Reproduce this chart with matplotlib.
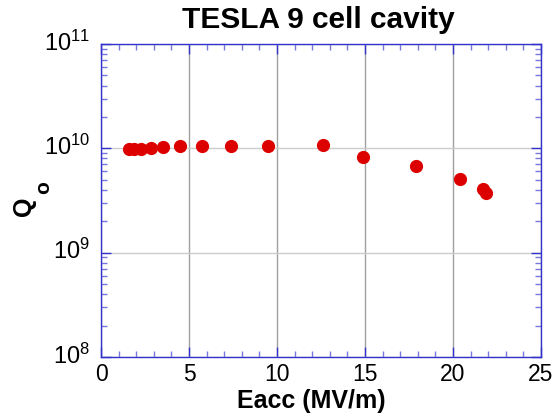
import matplotlib
matplotlib.use("Agg")
import matplotlib.pyplot as plt
import matplotlib.transforms as mtransforms
from matplotlib.ticker import LogLocator, MultipleLocator, NullFormatter

plt.rcParams['font.family'] = ['Liberation Sans', 'DejaVu Sans']
plt.rcParams['mathtext.fontset'] = 'custom'
plt.rcParams['mathtext.rm'] = 'Liberation Sans'
plt.rcParams['mathtext.it'] = 'Liberation Sans:italic'
plt.rcParams['mathtext.bf'] = 'Liberation Sans:bold'

eacc = [1.6, 1.85, 2.27, 2.82, 3.54, 4.49, 5.72, 7.39, 9.49, 12.6, 14.9, 17.9, 20.4, 21.7, 21.9]
q0 = [0.975e10, 0.98e10, 0.99e10, 1.007e10, 1.036e10, 1.06e10, 1.06e10, 1.06e10, 1.06e10,
      1.076e10, 0.825e10, 0.68e10, 0.508e10, 0.404e10, 0.37e10]

title = "TESLA 9 cell cavity"
xlabel = "Eacc (MV/m)"

W, H = 556, 416
fig = plt.figure(figsize=(W / 100, H / 100), dpi=100)
ax = fig.add_axes([101 / W, 1 - 357 / H, 440 / W, 313 / H])

ax.set_yscale('log')
ax.set_xlim(0, 25)
ax.set_ylim(1e8, 1e11)

ax.xaxis.grid(True, which='major', color='#a0a0a0', linewidth=1.0)
ax.yaxis.grid(True, which='major', color='#cccccc', linewidth=1.0)
ax.set_axisbelow(True)
ax.plot(eacc, q0, 'o', color='#dd0000', markersize=9.5, markeredgewidth=0, zorder=3)

blue = '#3333cc'
for s in ax.spines.values():
    s.set_color(blue)
    s.set_linewidth(1.0)

ax.xaxis.set_major_locator(MultipleLocator(5))
ax.xaxis.set_minor_locator(MultipleLocator(1))
ax.yaxis.set_major_locator(LogLocator(base=10, numticks=10))
ax.yaxis.set_minor_locator(LogLocator(base=10, subs=range(2, 10), numticks=20))
ax.yaxis.set_minor_formatter(NullFormatter())

ax.tick_params(which='both', direction='in', top=True, right=True, color=blue)
ax.tick_params(which='major', length=7, width=1)
ax.tick_params(which='minor', length=4, width=1, color='#7777dd')
ax.tick_params(axis='x', which='major', labelsize=16.5, pad=4)
ax.tick_params(axis='y', which='major', labelsize=17, pad=8)

fig.canvas.draw()
shift = mtransforms.ScaledTranslation(0, 3.5 / 100, fig.dpi_scale_trans)
for lbl in ax.get_yticklabels():
    lbl.set_transform(lbl.get_transform() + shift)

fig.text(318 / W, 1 - 28 / H, title, fontsize=21.5, fontweight='bold',
         ha='center', va='baseline')
fig.text(311 / W, 1 - 408 / H, xlabel, fontsize=18, fontweight='bold',
         ha='center', va='baseline')
fig.text(24 / W, 1 - 206 / H, "Q", fontsize=18, fontweight='bold',
         rotation=90, ha='center', va='center')
fig.text(43.5 / W, 1 - 188 / H, "o", fontsize=15, fontweight='bold',
         rotation=90, ha='center', va='center')

fig.savefig('out.png', dpi=100)
